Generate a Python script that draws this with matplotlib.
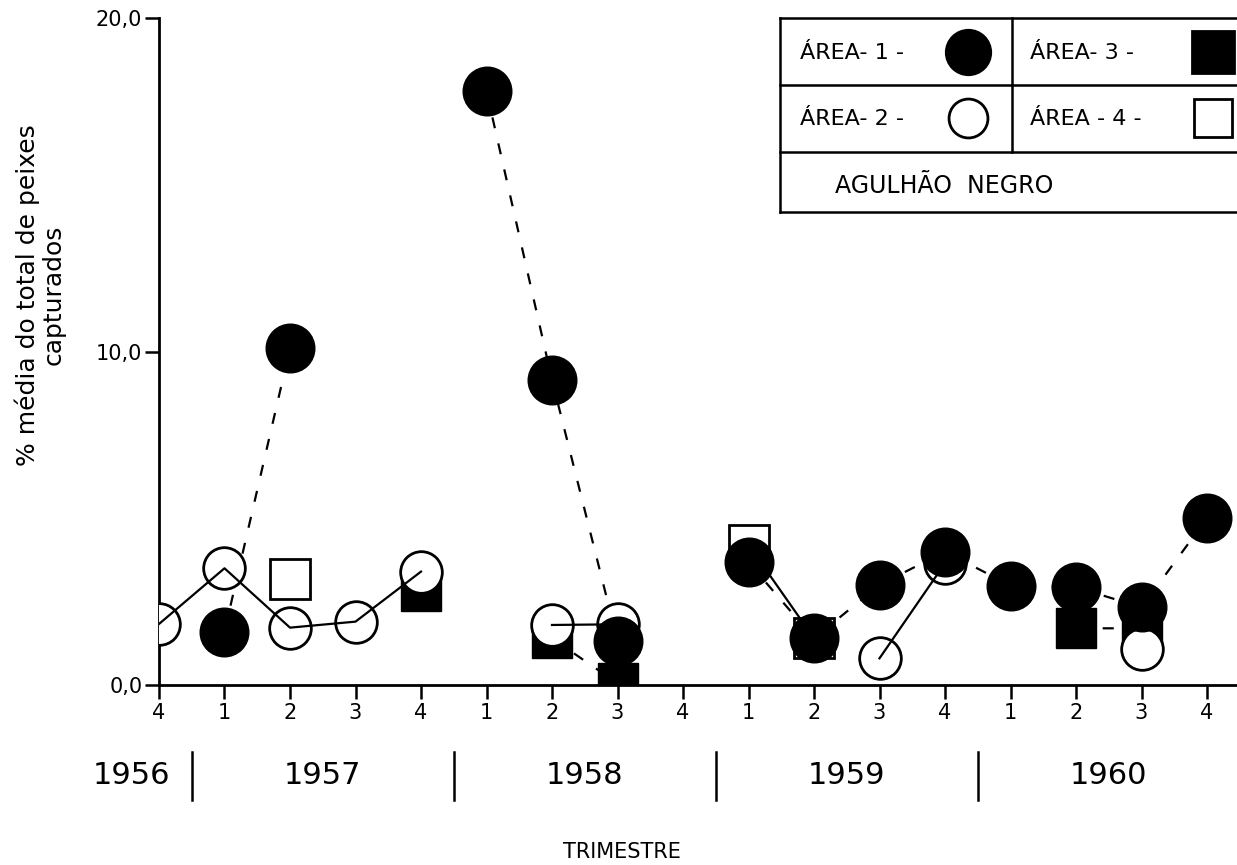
import numpy as np
import matplotlib
matplotlib.use('Agg')
import matplotlib.pyplot as plt
from matplotlib.lines import Line2D
from matplotlib.transforms import blended_transform_factory

# Trimestres de 1956-4 a 1960-4
trimestres = ['4', '1', '2', '3', '4', '1', '2', '3', '4', '1', '2', '3', '4', '1', '2', '3', '4']
anos = ['1956', '1957', '1958', '1959', '1960']
pos_anos = [-0.42, 2.5, 6.5, 10.5, 14.5]
divisoes = [0.5, 4.5, 8.5, 12.5]

nan = np.nan
# % media do total de peixes capturados por area
area1 = [nan, 1.6, 10.1, nan, nan, 17.8, 9.15, 1.33, nan, 3.68, 1.4, 3.0, 4.0, 2.98, 2.93, 2.33, 5.0]
area2 = [1.83, 3.5, 1.72, 1.9, 3.4, nan, 1.8, 1.82, nan, nan, nan, 0.8, 3.65, nan, nan, 1.08, nan]
area3 = [nan, nan, nan, nan, 2.83, nan, 1.4, 0.05, nan, nan, nan, nan, nan, nan, 1.7, 1.7, nan]
area4 = [nan, nan, 3.18, nan, nan, nan, nan, nan, nan, 4.2, 1.4, nan, nan, nan, nan, nan, nan]

W, H = 1237, 865
fig = plt.figure(figsize=(W / 100, H / 100), dpi=100)
fig.patch.set_facecolor('white')

def px(x, y):
    # pixel -> fracao da figura
    return x / W, 1 - y / H

x0, y0 = 159, 685
ax = fig.add_axes([x0 / W, 1 - y0 / H, 1 - x0 / W, (y0 - 18) / H])
x = np.arange(len(trimestres))

dash = (0, (5, 7))
ax.plot(x, area4, color='black', lw=1.6, marker='s', ms=29, mfc='white', mec='black', mew=2, zorder=2)
ax.plot(x, area3, color='black', lw=1.6, ls=dash, marker='s', ms=29, mfc='black', mec='black', zorder=3)
ax.plot(x, area1, color='black', lw=1.6, ls=dash, zorder=3.5)
ax.plot(x, area2, color='none', marker='o', ms=30, mfc='white', mec='black', mew=2, zorder=4)
ax.plot(x, area2, color='black', lw=1.6, zorder=4.5)
ax.plot(x, area1, ls='none', marker='o', ms=35, mfc='black', mec='black', zorder=5)

ax.set_xlim(0, (W - x0) / 65.5)
ax.set_ylim(0, 20)
for s in ['top', 'right']:
    ax.spines[s].set_visible(False)
for s in ['left', 'bottom']:
    ax.spines[s].set_linewidth(2)

ax.set_xticks(x)
ax.set_xticklabels(trimestres, fontsize=15)
ax.set_yticks([0, 10, 20])
ax.set_yticklabels(['0,0', '10,0', '20,0'], fontsize=15)
ax.tick_params(axis='x', direction='out', length=10, width=1.8, pad=3)
ax.tick_params(axis='y', direction='out', length=10, width=1.8, pad=2)

# rotulo do eixo y
fig.text(*px(40, 295), '% média do total de peixes\ncapturados', fontsize=18,
         rotation=90, ha='center', va='center', linespacing=1.05, multialignment='center')

# anos e separadores
tr = blended_transform_factory(ax.transData, fig.transFigure)
for p in divisoes:
    ax.plot([p, p], [1 - 752 / H, 1 - 800 / H], color='black', lw=1.8, transform=tr, clip_on=False)
for p, a in zip(pos_anos, anos):
    ax.text(p, 1 - 775 / H, a, transform=tr, fontsize=22, ha='center', va='center')
fig.text(*px(622, 852), 'TRIMESTRE', fontsize=15, ha='center', va='center')

# quadro da legenda
lx0, lx1, ly0, ly1 = 780, 1236, 18, 212
def seg(xa, ya, xb, yb):
    fig.add_artist(Line2D([xa / W, xb / W], [1 - ya / H, 1 - yb / H], color='black', lw=1.8))
seg(lx0, ly0, lx1, ly0)
seg(lx0, ly1, lx1, ly1)
seg(lx0, ly0, lx0, ly1)
seg(lx0, 85, lx1, 85)
seg(lx0, 152, lx1, 152)
seg(1012, ly0, 1012, 152)

fig.text(*px(800, 53), 'ÁREA- 1 -', fontsize=16, va='center')
fig.text(*px(800, 119), 'ÁREA- 2 -', fontsize=16, va='center')
fig.text(*px(1030, 53), 'ÁREA- 3 -', fontsize=16, va='center')
fig.text(*px(1030, 119), 'ÁREA - 4 -', fontsize=16, va='center')
fig.text(*px(835, 186), 'AGULHÃO  NEGRO', fontsize=17, va='center')

def marca(xp, yp, m, ms, fc):
    fig.add_artist(Line2D([xp / W], [1 - yp / H], marker=m, ms=ms, mfc=fc, mec='black', mew=2, ls='none'))
marca(968, 52, 'o', 32, 'black')
marca(968, 118, 'o', 28, 'white')
marca(1213, 52, 's', 30, 'black')
marca(1213, 118, 's', 27, 'white')

fig.savefig('out.png', dpi=100)
